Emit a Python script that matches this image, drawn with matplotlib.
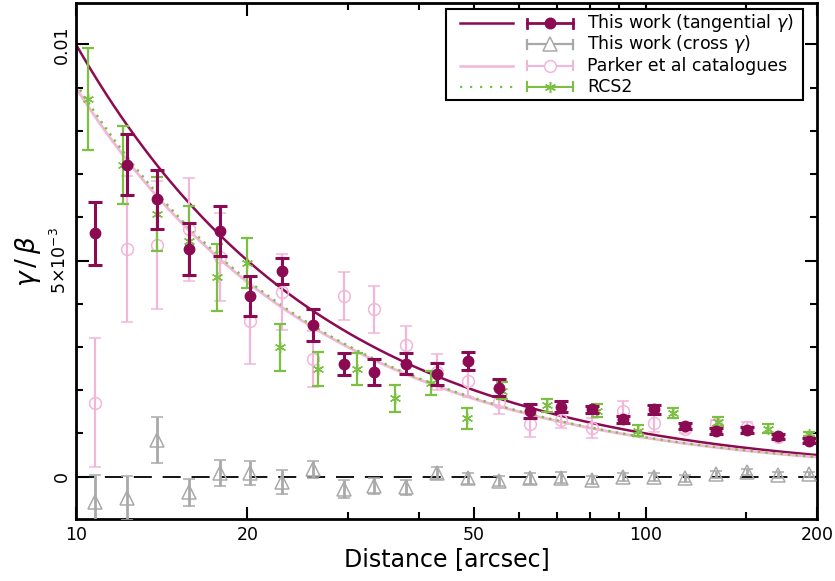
import numpy as np
import matplotlib
matplotlib.use("Agg")
import matplotlib.pyplot as plt
from matplotlib.lines import Line2D
from matplotlib.patches import Rectangle
from matplotlib.ticker import FixedLocator, NullFormatter, MultipleLocator

plt.rcParams['font.family'] = ['DejaVu Sans']
plt.rcParams['mathtext.fontset'] = 'dejavusans'

# ---- data (shear values in units of 1e-3) ----
# This work, tangential shear
tan_r = [10.8, 12.3, 13.9, 15.8, 17.9, 20.2, 23.0, 26.1, 29.5, 33.4, 38.0, 43.0,
         48.8, 55.3, 62.7, 71.0, 80.4, 91.2, 103.4, 117.1, 132.7, 150.7, 170.6, 193.6]
tan_g = [5.63, 7.22, 6.42, 5.26, 5.68, 4.18, 4.76, 3.51, 2.61, 2.42, 2.61, 2.37,
         2.68, 2.06, 1.52, 1.62, 1.56, 1.33, 1.56, 1.18, 1.06, 1.07, 0.93, 0.83]
tan_e = [0.73, 0.70, 0.68, 0.60, 0.58, 0.46, 0.31, 0.37, 0.26, 0.30, 0.24, 0.26,
         0.21, 0.19, 0.16, 0.12, 0.08, 0.08, 0.10, 0.07, 0.07, 0.07, 0.06, 0.06]

# This work, cross shear
cross_g = [-0.59, -0.50, 0.85, -0.36, 0.08, 0.09, -0.12, 0.17, -0.29, -0.21, -0.25, 0.08,
           -0.04, -0.10, -0.04, -0.02, -0.08, -0.01, -0.01, -0.04, 0.05, 0.10, 0.04, 0.05]
cross_e = [0.62, 0.51, 0.54, 0.31, 0.30, 0.28, 0.28, 0.20, 0.21, 0.18, 0.18, 0.14,
           0.13, 0.12, 0.13, 0.12, 0.10, 0.10, 0.09, 0.08, 0.07, 0.07, 0.06, 0.06]

# Parker et al catalogues
park_g = [1.71, 5.26, 5.37, 5.72, 5.09, 3.61, 4.27, 2.72, 4.18, 3.87, 3.05, 2.42,
          2.22, 1.73, 1.22, 1.31, 1.12, 1.53, 1.23, 1.10, 1.22, 1.16, 0.91, 0.87]
park_e = [1.49, 1.69, 1.48, 1.20, 1.02, 1.00, 0.88, 0.64, 0.55, 0.55, 0.44, 0.41,
          0.38, 0.29, 0.30, 0.19, 0.23, 0.21, 0.19, 0.08, 0.10, 0.10, 0.06, 0.05]

# RCS2
rcs_r = [10.5, 12.1, 13.9, 15.8, 17.7, 20.0, 22.8, 26.6, 31.2, 36.3, 42.0, 48.5,
         55.9, 67.1, 82.1, 96.8, 111.6, 134.2, 164.3, 193.6]
rcs_g = [8.73, 7.21, 6.08, 5.46, 4.61, 4.95, 2.99, 2.49, 2.48, 1.81, 2.16, 1.35,
         1.99, 1.65, 1.52, 1.06, 1.48, 1.27, 1.11, 0.99]
rcs_e = [1.18, 0.91, 0.85, 0.81, 0.77, 0.58, 0.54, 0.39, 0.37, 0.31, 0.28, 0.24,
         0.20, 0.15, 0.15, 0.13, 0.12, 0.10, 0.10, 0.05]

# SIS fit amplitudes: gamma/beta = A / theta  (theta in arcsec)
fit_amp = {"tan": 0.100, "parker": 0.0900, "rcs2": 0.0910}

C_TAN = "#8c0a52"
C_CROSS = "#a9a9a9"
C_PARK = "#f2b6d9"
C_RCS = "#7cc043"
DOTS = (0, (1, 2.2))

s = 1e-3
fig = plt.figure(figsize=(8.35, 5.81), dpi=100)
ax = fig.add_axes([76 / 835, 1 - 519 / 581, 741 / 835, 516 / 581])

theta = np.logspace(1, np.log10(200), 300)
ax.plot(theta, fit_amp["tan"] / theta, color=C_TAN, lw=1.8, zorder=2)
ax.plot(theta, fit_amp["parker"] / theta, color=C_PARK, lw=2.0, zorder=2)
ax.plot(theta, fit_amp["rcs2"] / theta, color=C_RCS, lw=1.7, ls=DOTS, zorder=2.1)

ax.axhline(0, color="black", lw=1.3, dashes=(10, 6), zorder=1)

ax.errorbar(tan_r, np.array(park_g) * s, yerr=np.array(park_e) * s, fmt="o", ms=8.5,
            mfc="none", mec=C_PARK, mew=1.1, color=C_PARK, elinewidth=1.6, capsize=4,
            capthick=1.6, zorder=3)
ax.errorbar(rcs_r, np.array(rcs_g) * s, yerr=np.array(rcs_e) * s, fmt="none",
            color=C_RCS, elinewidth=1.6, capsize=4, capthick=1.6, zorder=3.5)
ax.plot(rcs_r, np.array(rcs_g) * s, ls="none", marker=(6, 2, 0), ms=8, mec=C_RCS,
        mew=1.0, zorder=3.6)
ax.errorbar(tan_r, np.array(cross_g) * s, yerr=np.array(cross_e) * s, fmt="^", ms=10,
            mfc="none", mec=C_CROSS, mew=1.1, color=C_CROSS, elinewidth=2.0, capsize=4.5,
            capthick=2.0, zorder=3.2)
ax.errorbar(tan_r, np.array(tan_g) * s, yerr=np.array(tan_e) * s, fmt="o", ms=7.5,
            color=C_TAN, mec=C_TAN, elinewidth=2.2, capsize=5, capthick=2.2, zorder=4)

ax.set_xscale("log")
ax.set_xlim(10, 200)
ax.set_ylim(-0.00098, 0.01096)

ax.xaxis.set_major_locator(FixedLocator([10, 20, 50, 100, 200]))
ax.xaxis.set_minor_locator(FixedLocator([30, 40, 60, 70, 80, 90, 150]))
ax.set_xticks([10, 20, 50, 100, 200])
ax.set_xticklabels(["10", "20", "50", "100", "200"])
ax.xaxis.set_minor_formatter(NullFormatter())
ax.set_yticks([0, 0.005, 0.01])
ax.set_yticklabels(["0", r"5$\times$10$^{-3}$", "0.01"], rotation=90, va="center")
ax.yaxis.set_minor_locator(MultipleLocator(0.001))

ax.tick_params(which="both", direction="in", top=True, right=True, width=1.5,
               labelsize=12.5, colors="black")
ax.tick_params(axis="x", which="major", length=9, pad=5)
ax.tick_params(axis="y", which="major", length=9, pad=4)
ax.tick_params(which="minor", length=5)
for sp in ax.spines.values():
    sp.set_linewidth(2)

ax.set_xlabel("Distance [arcsec]", fontsize=17, labelpad=2)
ax.set_ylabel(r"$\gamma\,/\,\beta$", fontsize=19)
ax.yaxis.set_label_coords(-0.044, 0.5)

# ---- legend (drawn in figure pixel layout) ----
W, H = 835, 581
def fx(px):
    return px / W
def fy(py):
    return 1 - py / H

tf = fig.transFigure
fig.add_artist(Rectangle((fx(446), fy(100)), fx(803) - fx(446), fy(9) - fy(100),
                         transform=tf, fill=True, fc="white", ec="black", lw=1.5, zorder=10))

rows = [
    ("This work (tangential $\\gamma$)", C_TAN, "-", "o", C_TAN, 2.0),
    ("This work (cross $\\gamma$)", C_CROSS, None, "^", "none", 1.6),
    ("Parker et al catalogues", C_PARK, "-", "o", "none", 1.5),
    ("RCS2", C_RCS, ":", (6, 2, 0), C_RCS, 1.5),
]
row_y = [23.3, 44.3, 65.7, 86.7]
for (lab, col, ls, mk, mfc, lw), py in zip(rows, row_y):
    y = fy(py)
    if ls is not None:
        if ls == ":":
            fig.add_artist(Line2D([fx(460), fx(513)], [y, y], transform=tf, color=col,
                                  lw=1.6, ls=(0, (1, 3.5)), zorder=11))
        else:
            fig.add_artist(Line2D([fx(460), fx(513)], [y, y], transform=tf, color=col,
                                  lw=1.8, zorder=11))
    fig.add_artist(Line2D([fx(527), fx(573)], [y, y], transform=tf, color=col, lw=lw, zorder=11))
    for cx in (527, 573):
        fig.add_artist(Line2D([fx(cx), fx(cx)], [y - 4.5 / H, y + 4.5 / H], transform=tf,
                              color=col, lw=lw, zorder=11))
    if mk == "o":
        ms = 7.5 if mfc != "none" else 8.5
    elif mk == "^":
        ms = 10
    else:
        ms = 8
    fig.add_artist(Line2D([fx(550)], [y], transform=tf, marker=mk, ms=ms,
                          mfc=mfc if mfc != "none" else "white",
                          mec=col, mew=1.1, ls="none", zorder=12))
    fig.text(fx(587), y, lab, fontsize=12.5, va="center", ha="left", zorder=12)

fig.savefig("out.png", dpi=100)
